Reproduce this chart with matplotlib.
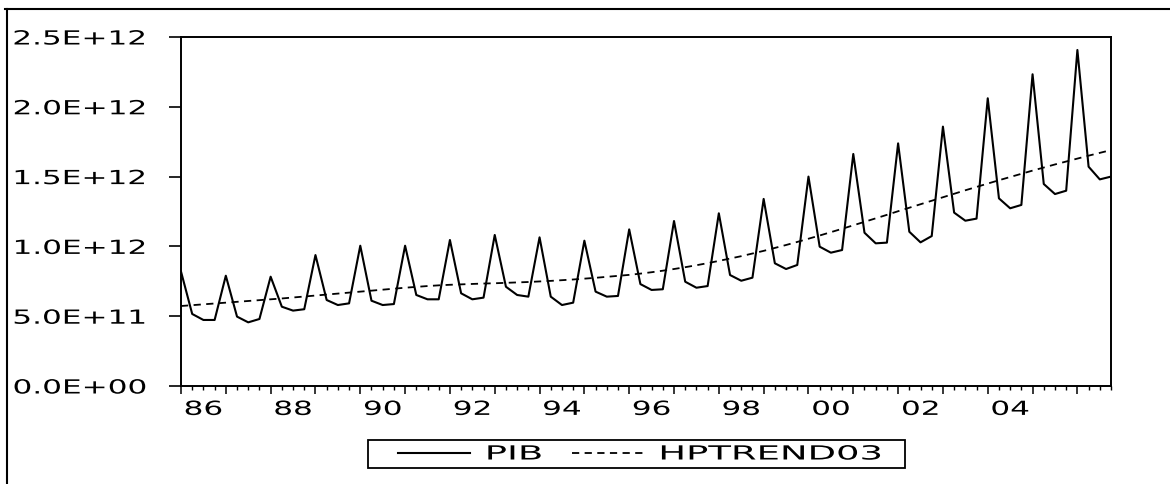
import numpy as np
import pandas as pd
import matplotlib
matplotlib.use('Agg')
import matplotlib.pyplot as plt
from matplotlib.lines import Line2D
from matplotlib.patches import Rectangle
from matplotlib.patheffects import AbstractPathEffect
from matplotlib.transforms import Affine2D

# quarterly sample 1986Q1 - 2006Q4
quarters = pd.period_range('1986Q1', '2006Q4', freq='Q')

# values in units of 1E+12
pib = [
    0.82, 0.516, 0.473, 0.473,
    0.79, 0.497, 0.456, 0.48,
    0.783, 0.568, 0.54, 0.55,
    0.938, 0.616, 0.58, 0.592,
    1.005, 0.611, 0.58, 0.587,
    1.005, 0.652, 0.621, 0.621,
    1.046, 0.664, 0.621, 0.633,
    1.082, 0.711, 0.652, 0.64,
    1.065, 0.64, 0.58, 0.597,
    1.041, 0.676, 0.64, 0.645,
    1.122, 0.73, 0.688, 0.693,
    1.182, 0.747, 0.704, 0.716,
    1.237, 0.795, 0.754, 0.776,
    1.34, 0.879, 0.838, 0.867,
    1.5, 0.998, 0.955, 0.974,
    1.662, 1.098, 1.022, 1.027,
    1.738, 1.105, 1.029, 1.074,
    1.858, 1.242, 1.184, 1.199,
    2.061, 1.344, 1.273, 1.297,
    2.233, 1.447, 1.375, 1.399,
    2.407, 1.571, 1.48, 1.5,
]
hptrend03 = [
    0.573, 0.579, 0.585, 0.591, 0.597, 0.603, 0.609, 0.615,
    0.621, 0.627, 0.634, 0.641, 0.648, 0.655, 0.662, 0.669,
    0.676, 0.683, 0.690, 0.697, 0.704, 0.710, 0.716, 0.721,
    0.725, 0.728, 0.731, 0.734, 0.736, 0.739, 0.742, 0.745,
    0.749, 0.753, 0.758, 0.763, 0.769, 0.775, 0.782, 0.789,
    0.796, 0.805, 0.815, 0.826, 0.838, 0.851, 0.865, 0.880,
    0.896, 0.913, 0.930, 0.949, 0.968, 0.989, 1.010, 1.032,
    1.055, 1.078, 1.102, 1.126, 1.151, 1.176, 1.201, 1.226,
    1.252, 1.277, 1.302, 1.327, 1.352, 1.377, 1.402, 1.426,
    1.450, 1.474, 1.497, 1.520, 1.543, 1.565, 1.587, 1.608,
    1.629, 1.650, 1.670, 1.690,
]

ytick_values = [0.0, 0.5e12, 1.0e12, 1.5e12, 2.0e12, 2.5e12]
ytick_labels = ['0.0E+00', '5.0E+11', '1.0E+12', '1.5E+12', '2.0E+12', '2.5E+12']
year_labels = ['86', '88', '90', '92', '94', '96', '98', '00', '02', '04']

plt.rcParams['font.family'] = ['DejaVu Sans']


class Stretch(AbstractPathEffect):
    """Draw text glyphs widened horizontally (the scan is stretched)."""

    def __init__(self, sx, anchor='left'):
        super().__init__()
        self.sx = sx
        self.anchor = anchor

    def draw_path(self, renderer, gc, tpath, affine, rgbFace=None):
        ext = tpath.get_extents()
        x0 = {'left': ext.x0, 'center': (ext.x0 + ext.x1) / 2, 'right': ext.x1}[self.anchor]
        pre = Affine2D().translate(-x0, 0).scale(self.sx, 1).translate(x0, 0)
        renderer.draw_path(gc, tpath, pre + affine, rgbFace)


SX = 1.6
W, H = 1170, 485

fig = plt.figure(figsize=(W / 100, H / 100), dpi=100)
ax = fig.add_axes([181 / W, 1 - 387 / H, (1111 - 181) / W, (387 - 38) / H])

x = np.arange(len(quarters))
ax.plot(x, np.array(pib) * 1e12, color='black', lw=1.5, label='PIB')
ax.plot(x, np.array(hptrend03) * 1e12, color='black', lw=1.3, ls=(0, (4, 3)), label='HPTREND03')

ax.set_xlim(0, len(quarters) - 1)
ax.set_ylim(0, 2.5e12)
for s in ax.spines.values():
    s.set_linewidth(1.4)

ax.set_yticks(ytick_values, ytick_labels)
ax.tick_params(axis='y', direction='out', length=8.5, width=1.2, pad=16.5, labelsize=14)

# long ticks at year starts, short ones each quarter
year_starts = x[quarters.quarter == 1]
ax.set_xticks(year_starts)
ax.set_xticks(x, minor=True)
ax.tick_params(axis='x', which='major', direction='out', length=6, width=1.1, labelbottom=False)
ax.tick_params(axis='x', which='minor', direction='out', length=3, width=1.0)

# year labels centred in the year span
label_pos = [i + 2 for i, q in zip(x, quarters)
             if q.quarter == 1 and f'{q.year % 100:02d}' in year_labels]
sec = ax.secondary_xaxis('bottom')
sec.set_xticks(label_pos, year_labels)
sec.tick_params(length=0, pad=10, labelsize=14)
sec.spines['bottom'].set_visible(False)

for t in ax.get_yticklabels():
    t.set_path_effects([Stretch(SX, 'right')])
for t in sec.get_xticklabels():
    t.set_path_effects([Stretch(SX, 'center')])

leg = ax.legend(loc='center left', bbox_to_anchor=(398 / W, 1 - 455 / H),
                bbox_transform=fig.transFigure, frameon=False, ncol=2, fontsize=14,
                handlelength=3.7, handletextpad=0.85, columnspacing=2.8,
                borderpad=0, borderaxespad=0)
for t in leg.get_texts():
    t.set_path_effects([Stretch(1.9, 'left')])
fig.add_artist(Rectangle((368 / W, 1 - 469 / H), (905 - 368) / W, 28 / H,
                         transform=fig.transFigure, fill=False, lw=1.3, ec='black'))

# frame of the original graph window
fig.add_artist(Line2D([5 / W, 1], [1 - 10 / H] * 2, transform=fig.transFigure, color='black', lw=1.5))
fig.add_artist(Line2D([7 / W] * 2, [0, 1 - 10 / H], transform=fig.transFigure, color='black', lw=1.5))

fig.savefig('out.png', dpi=100)
